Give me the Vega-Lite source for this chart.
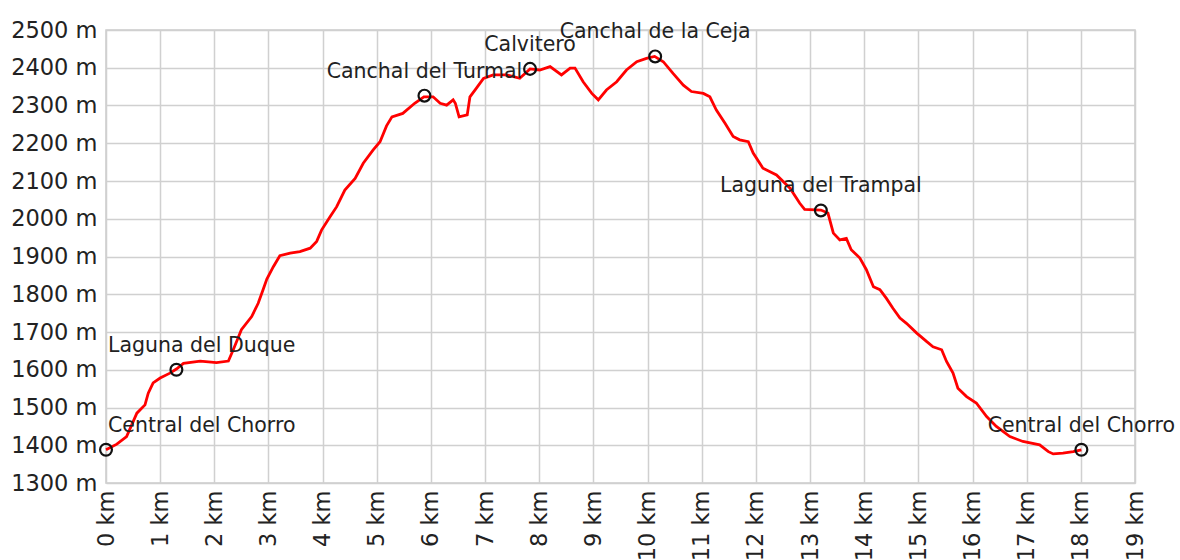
{
  "$schema": "https://vega.github.io/schema/vega-lite/v6.json",
  "autosize": {"type": "none"},
  "padding": {"left": 106, "top": 30, "right": 45, "bottom": 77},
  "width": 1029,
  "height": 453,
  "background": "white",
  "config": {
    "view": {"stroke": "#cccccc", "strokeWidth": 1.5},
    "font": "DejaVu Sans",
    "axis": {
      "gridColor": "#d0d0d0",
      "gridWidth": 1.5,
      "gridOpacity": 1,
      "domain": false,
      "ticks": false,
      "labelFont": "DejaVu Sans",
      "labelFontSize": 22.5,
      "labelColor": "#222222",
      "title": null
    }
  },
  "datasets": {
    "profile": [
      {"km": 0, "elev": 1388}, {"km": 0.2, "elev": 1403}, {"km": 0.38, "elev": 1423},
      {"km": 0.57, "elev": 1485}, {"km": 0.72, "elev": 1507}, {"km": 0.78, "elev": 1538},
      {"km": 0.87, "elev": 1565}, {"km": 1.0, "elev": 1578}, {"km": 1.18, "elev": 1591},
      {"km": 1.3, "elev": 1602}, {"km": 1.43, "elev": 1617}, {"km": 1.74, "elev": 1623},
      {"km": 2.04, "elev": 1619}, {"km": 2.26, "elev": 1623}, {"km": 2.35, "elev": 1653},
      {"km": 2.5, "elev": 1706}, {"km": 2.69, "elev": 1741}, {"km": 2.81, "elev": 1776},
      {"km": 2.9, "elev": 1812}, {"km": 2.97, "elev": 1840}, {"km": 3.09, "elev": 1873},
      {"km": 3.21, "elev": 1902}, {"km": 3.4, "elev": 1909}, {"km": 3.58, "elev": 1913},
      {"km": 3.77, "elev": 1922}, {"km": 3.89, "elev": 1940}, {"km": 3.98, "elev": 1970},
      {"km": 4.14, "elev": 2006}, {"km": 4.26, "elev": 2032}, {"km": 4.41, "elev": 2076},
      {"km": 4.6, "elev": 2107}, {"km": 4.75, "elev": 2147}, {"km": 4.93, "elev": 2182},
      {"km": 5.06, "elev": 2204}, {"km": 5.18, "elev": 2246}, {"km": 5.28, "elev": 2270},
      {"km": 5.48, "elev": 2279}, {"km": 5.7, "elev": 2306}, {"km": 5.87, "elev": 2323},
      {"km": 6.04, "elev": 2323}, {"km": 6.17, "elev": 2306}, {"km": 6.29, "elev": 2301},
      {"km": 6.41, "elev": 2315}, {"km": 6.45, "elev": 2306}, {"km": 6.52, "elev": 2270},
      {"km": 6.67, "elev": 2275}, {"km": 6.72, "elev": 2323}, {"km": 6.84, "elev": 2346},
      {"km": 6.97, "elev": 2372}, {"km": 7.15, "elev": 2381}, {"km": 7.4, "elev": 2381},
      {"km": 7.64, "elev": 2372}, {"km": 7.83, "elev": 2397}, {"km": 8.01, "elev": 2394},
      {"km": 8.2, "elev": 2403}, {"km": 8.41, "elev": 2381}, {"km": 8.57, "elev": 2399},
      {"km": 8.66, "elev": 2399}, {"km": 8.81, "elev": 2363}, {"km": 8.97, "elev": 2332},
      {"km": 9.09, "elev": 2315}, {"km": 9.24, "elev": 2341}, {"km": 9.43, "elev": 2363},
      {"km": 9.61, "elev": 2394}, {"km": 9.8, "elev": 2416}, {"km": 9.98, "elev": 2425},
      {"km": 10.13, "elev": 2430}, {"km": 10.29, "elev": 2416}, {"km": 10.47, "elev": 2385},
      {"km": 10.66, "elev": 2354}, {"km": 10.81, "elev": 2337}, {"km": 11.03, "elev": 2332},
      {"km": 11.15, "elev": 2323}, {"km": 11.27, "elev": 2288}, {"km": 11.43, "elev": 2253},
      {"km": 11.58, "elev": 2218}, {"km": 11.7, "elev": 2209}, {"km": 11.86, "elev": 2204},
      {"km": 11.95, "elev": 2174}, {"km": 12.13, "elev": 2134}, {"km": 12.38, "elev": 2116},
      {"km": 12.63, "elev": 2081}, {"km": 12.81, "elev": 2041}, {"km": 12.9, "elev": 2025},
      {"km": 13.2, "elev": 2023}, {"km": 13.33, "elev": 2015}, {"km": 13.43, "elev": 1962},
      {"km": 13.55, "elev": 1944}, {"km": 13.67, "elev": 1948}, {"km": 13.76, "elev": 1918},
      {"km": 13.92, "elev": 1896}, {"km": 14.04, "elev": 1865}, {"km": 14.17, "elev": 1820},
      {"km": 14.29, "elev": 1812}, {"km": 14.41, "elev": 1789}, {"km": 14.53, "elev": 1763},
      {"km": 14.66, "elev": 1737}, {"km": 14.78, "elev": 1723}, {"km": 14.97, "elev": 1697},
      {"km": 15.15, "elev": 1675}, {"km": 15.27, "elev": 1661}, {"km": 15.43, "elev": 1653},
      {"km": 15.52, "elev": 1622}, {"km": 15.64, "elev": 1591}, {"km": 15.73, "elev": 1551},
      {"km": 15.89, "elev": 1529}, {"km": 16.07, "elev": 1512}, {"km": 16.26, "elev": 1476},
      {"km": 16.44, "elev": 1450}, {"km": 16.69, "elev": 1423}, {"km": 16.93, "elev": 1410},
      {"km": 17.24, "elev": 1401}, {"km": 17.4, "elev": 1383}, {"km": 17.49, "elev": 1377},
      {"km": 17.67, "elev": 1379}, {"km": 17.86, "elev": 1383}, {"km": 18.01, "elev": 1388}
    ],
    "waypoints": [
      {"name": "Central del Chorro", "km": 0, "elev": 1388},
      {"name": "Laguna del Duque", "km": 1.3, "elev": 1600},
      {"name": "Canchal del Turmal", "km": 5.88, "elev": 2326},
      {"name": "Calvitero", "km": 7.83, "elev": 2397},
      {"name": "Canchal de la Ceja", "km": 10.14, "elev": 2430},
      {"name": "Laguna del Trampal", "km": 13.2, "elev": 2022},
      {"name": "Central del Chorro", "km": 18.01, "elev": 1388}
    ]
  },
  "encoding": {
    "x": {
      "field": "km", "type": "quantitative",
      "scale": {"domain": [0, 19], "nice": false, "zero": false},
      "axis": {
        "values": [0,1,2,3,4,5,6,7,8,9,10,11,12,13,14,15,16,17,18,19],
        "labelExpr": "datum.value + ' km'",
        "labelAngle": -90,
        "labelPadding": 7
      }
    },
    "y": {
      "field": "elev", "type": "quantitative",
      "scale": {"domain": [1300, 2500], "nice": false, "zero": false},
      "axis": {
        "values": [1300,1400,1500,1600,1700,1800,1900,2000,2100,2200,2300,2400,2500],
        "labelExpr": "datum.value + ' m'",
        "labelPadding": 9
      }
    }
  },
  "layer": [
    {
      "data": {"name": "profile"},
      "mark": {"type": "line", "color": "#ff0000", "strokeWidth": 2.8, "interpolate": "linear"}
    },
    {
      "data": {"name": "waypoints"},
      "mark": {"type": "point", "shape": "circle", "filled": false, "stroke": "#111111", "strokeWidth": 2.2, "size": 140, "opacity": 1}
    },
    {
      "data": {"name": "waypoints"},
      "transform": [{"filter": "datum.km >= 2"}],
      "mark": {"type": "text", "fontSize": 20.5, "font": "DejaVu Sans", "color": "#222222", "align": "center", "baseline": "middle", "dy": -24},
      "encoding": {"text": {"field": "name"}}
    },
    {
      "data": {"name": "waypoints"},
      "transform": [{"filter": "datum.km < 2"}],
      "mark": {"type": "text", "fontSize": 20.5, "font": "DejaVu Sans", "color": "#222222", "align": "left", "baseline": "middle", "dy": -24, "dx": 2},
      "encoding": {"x": {"datum": 0, "type": "quantitative"}, "text": {"field": "name"}}
    }
  ]
}
